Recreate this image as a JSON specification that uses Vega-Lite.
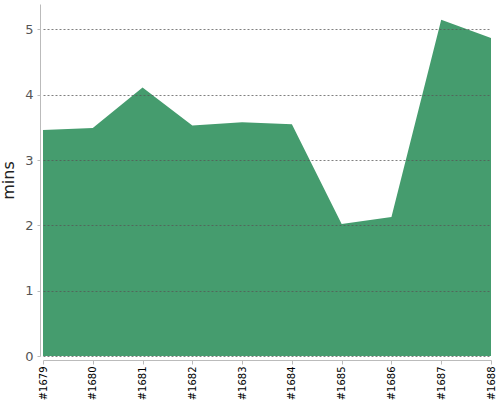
{
  "$schema": "https://vega.github.io/schema/vega-lite/v6.json",
  "autosize": "none",
  "padding": {"left": 43, "top": 4, "right": 9, "bottom": 44},
  "width": 448,
  "height": 352,
  "config": {"view": {"stroke": null}, "font": "DejaVu Sans"},
  "data": {"values": [
    {"run": "#1679", "mins": 3.46},
    {"run": "#1680", "mins": 3.49},
    {"run": "#1681", "mins": 4.11},
    {"run": "#1682", "mins": 3.53},
    {"run": "#1683", "mins": 3.58},
    {"run": "#1684", "mins": 3.55},
    {"run": "#1685", "mins": 2.02},
    {"run": "#1686", "mins": 2.13},
    {"run": "#1687", "mins": 5.15},
    {"run": "#1688", "mins": 4.87}
  ]},
  "mark": {"type": "area", "color": "#459c6e", "opacity": 1},
  "encoding": {
    "x": {
      "field": "run", "type": "ordinal", "title": null,
      "scale": {"type": "point", "padding": 0},
      "axis": {"labelAngle": 270, "labelFontSize": 10, "labelColor": "#000", "domainColor": "#bbb", "tickColor": "#bbb", "tickSize": 4, "offset": 4, "grid": false, "labelPadding": 2}
    },
    "y": {
      "field": "mins", "type": "quantitative", "title": "mins",
      "scale": {"domain": [0, 5.39], "nice": false},
      "axis": {"values": [0, 1, 2, 3, 4, 5], "offset": 3, "domainColor": "#bbb", "tickColor": "#bbb", "tickSize": 3, "labelFontSize": 13, "labelColor": "#555", "labelPadding": 4, "titleFontSize": 16, "titleFontWeight": "normal", "titleColor": "#222", "titlePadding": 8, "grid": true, "gridColor": "#555", "gridDash": [2, 2], "gridOpacity": 0.75, "zindex": 1}
    }
  }
}
